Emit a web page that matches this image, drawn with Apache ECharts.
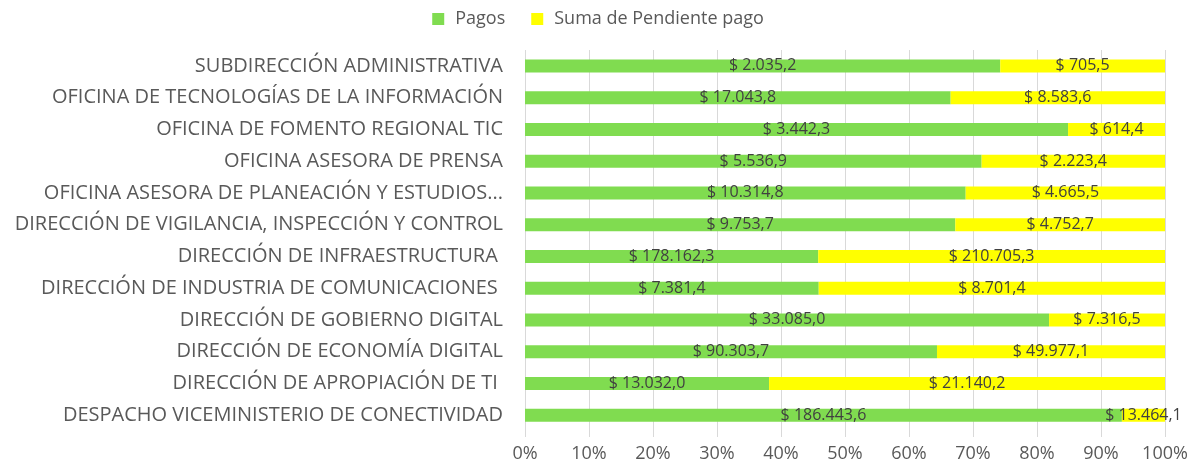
<!DOCTYPE html>
<html><head><meta charset="utf-8">
<script src="https://cdn.jsdelivr.net/npm/echarts@6/dist/echarts.min.js"></script>
<style>html,body{margin:0;padding:0;background:#fff}#c{width:1196px;height:464px}</style>
</head><body><div id="c"></div>
<script>
const categories = [
  "DESPACHO VICEMINISTERIO DE CONECTIVIDAD",
  "DIRECCIÓN DE APROPIACIÓN DE TI ",
  "DIRECCIÓN DE ECONOMÍA DIGITAL",
  "DIRECCIÓN DE GOBIERNO DIGITAL",
  "DIRECCIÓN DE INDUSTRIA DE COMUNICACIONES ",
  "DIRECCIÓN DE INFRAESTRUCTURA ",
  "DIRECCIÓN DE VIGILANCIA, INSPECCIÓN Y CONTROL",
  "OFICINA ASESORA DE PLANEACIÓN Y ESTUDIOS...",
  "OFICINA ASESORA DE PRENSA",
  "OFICINA DE FOMENTO REGIONAL TIC",
  "OFICINA DE TECNOLOGÍAS DE LA INFORMACIÓN",
  "SUBDIRECCIÓN ADMINISTRATIVA"
];
const pagos = [186443.6, 13032.0, 90303.7, 33085.0, 7381.4, 178162.3, 9753.7, 10314.8, 5536.9, 3442.3, 17043.8, 2035.2];
const pendiente = [13464.1, 21140.2, 49977.1, 7316.5, 8701.4, 210705.3, 4752.7, 4665.5, 2223.4, 614.4, 8583.6, 705.5];
const xTicks = ["0%","10%","20%","30%","40%","50%","60%","70%","80%","90%","100%"];

function fmt(v){
  const parts = v.toFixed(1).split('.');
  const int = parts[0].replace(/\B(?=(\d{3})+(?!\d))/g, '.');
  return '$ ' + int + ',' + parts[1];
}
const totals = pagos.map((p,i)=>p+pendiente[i]);
const mk = (arr)=>arr.map((v,i)=>({value: v/totals[i]*100, raw: v}));

const chart = echarts.init(document.getElementById('c'));
const lbl = {show:true, position:'inside', color:'#404040', fontSize:16, fontFamily:'Open Sans', formatter:p=>fmt(p.data.raw)};
chart.setOption({
  animation:false,
  legend:{top:5, left:'center', itemWidth:12, itemHeight:12, itemGap:26,
    icon:'rect',
    textStyle:{color:'#595959', fontSize:18, fontFamily:'Open Sans', padding:[0,0,0,6]},
    data:['Pagos','Suma de Pendiente pago']},
  grid:{left:525, right:31, top:50, bottom:33},
  xAxis:{type:'value', min:0, max:100, interval:10,
    axisLabel:{formatter:v=>xTicks[Math.round(v/10)], color:'#595959', fontSize:18, fontFamily:'Open Sans', margin:14},
    axisLine:{show:false},
    axisTick:{show:true, length:6, lineStyle:{color:'#d9d9d9'}},
    splitLine:{show:true, lineStyle:{color:'#d9d9d9'}}},
  yAxis:{type:'category', data:categories,
    axisLine:{show:false}, axisTick:{show:false},
    axisLabel:{color:'#595959', fontSize:20, fontFamily:'Open Sans', margin:22}},
  series:[
    {name:'Pagos', type:'bar', stack:'t', barWidth:13, itemStyle:{color:'#80DC50'}, label:lbl, data:mk(pagos)},
    {name:'Suma de Pendiente pago', type:'bar', stack:'t', barWidth:13, itemStyle:{color:'#FFFF00'}, label:lbl, data:mk(pendiente)}
  ]
});
</script></body></html>
